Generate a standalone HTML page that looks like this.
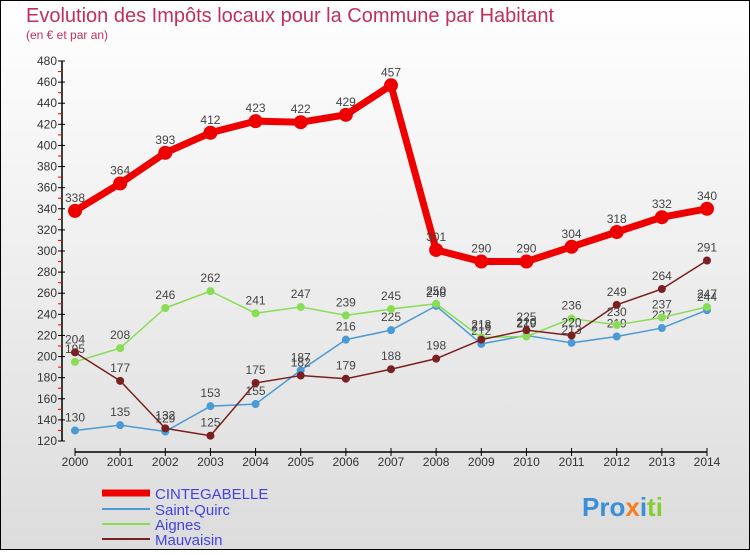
<!DOCTYPE html>
<html><head><meta charset="utf-8"><style>
body{margin:0;width:750px;height:550px;overflow:hidden;font-family:"Liberation Sans",sans-serif}
</style></head><body>
<svg id="c" width="750" height="550" xmlns="http://www.w3.org/2000/svg">
<defs><linearGradient id="bg" x1="0" y1="0" x2="0" y2="1"><stop offset="0" stop-color="#ffffff"/><stop offset="1" stop-color="#dcdcdc"/></linearGradient></defs>
<rect x="0.5" y="0.5" width="749" height="549" fill="url(#bg)" stroke="#000"/>
<text x="26" y="22" font-size="20" fill="#c0305a">Evolution des Impôts locaux pour la Commune par Habitant</text>
<text x="26" y="39" font-size="12" fill="#c0305a">(en € et par an)</text>
<g id="axes"></g><g id="series"></g>
<g>
<line x1="102" y1="493" x2="150" y2="493" stroke="#ee0000" stroke-width="7"/>
<text x="155" y="499" font-size="15" fill="#4444dd">CINTEGABELLE</text>
<line x1="102" y1="509" x2="150" y2="509" stroke="#4a9ad6" stroke-width="2"/>
<text x="155" y="515" font-size="15" fill="#4444dd">Saint-Quirc</text>
<line x1="102" y1="524" x2="150" y2="524" stroke="#88dd55" stroke-width="2"/>
<text x="155" y="530" font-size="15" fill="#4444dd">Aignes</text>
<line x1="102" y1="539" x2="150" y2="539" stroke="#7a2020" stroke-width="2"/>
<text x="155" y="545" font-size="15" fill="#4444dd">Mauvaisin</text>
</g>
<text x="582" y="516" font-size="26" font-weight="bold"><tspan fill="#3a8fd8">Pro</tspan><tspan fill="#f08020">x</tspan><tspan fill="#3a8fd8">i</tspan><tspan fill="#88cc33">ti</tspan></text>
</svg>
<script>
const years=[2000,2001,2002,2003,2004,2005,2006,2007,2008,2009,2010,2011,2012,2013,2014];
const cintegabelle=[338,364,393,412,423,422,429,457,301,290,290,304,318,332,340];
const saintQuirc=[130,135,129,153,155,187,216,225,248,212,220,213,219,227,244];
const aignes=[195,208,246,262,241,247,239,245,250,218,219,236,230,237,247];
const mauvaisin=[204,177,132,125,175,182,179,188,198,216,225,220,249,264,291];
const yTicks=[120,140,160,180,200,220,240,260,280,300,320,340,360,380,400,420,440,460,480];
const NS="http://www.w3.org/2000/svg";
const X=i=>75+i*(707-75)/14;
const Y=v=>441-(v-120)*(380/360);
function mk(tag,at,parent){const e=document.createElementNS(NS,tag);for(const k in at)e.setAttribute(k,at[k]);parent.appendChild(e);return e;}
const ax=document.getElementById('axes'),sg=document.getElementById('series');
let e=mk('line',{x1:62,y1:61,x2:62,y2:441,stroke:'#000','stroke-width':1.5},ax);


e=mk('line',{x1:75,y1:452,x2:707,y2:452,stroke:'#000','stroke-width':1.5},ax);


yTicks.forEach((t,i)=>{
  mk('line',{x1:58,y1:Y(t),x2:65,y2:Y(t),stroke:'#000'},ax);
  if(i<yTicks.length-1)mk('line',{x1:58,y1:Y(t+10),x2:62,y2:Y(t+10),stroke:'#e00'},ax);
  const tx=mk('text',{x:57,y:Y(t)+4,'text-anchor':'end','font-size':12,fill:'#333'},ax);tx.textContent=t;
  
  
});
years.forEach((y,i)=>{
  mk('line',{x1:X(i),y1:448,x2:X(i),y2:456,stroke:'#000'},ax);
  const tx=mk('text',{x:X(i),y:466,'text-anchor':'middle','font-size':12,fill:'#333'},ax);tx.textContent=y;
  
  
});
function series(data,color,w,r,name){
  const g=mk('g',{},sg);
  
  
  const p=mk('polyline',{points:data.map((v,i)=>X(i)+','+Y(v)).join(' '),fill:'none',stroke:color,'stroke-width':w,'stroke-linejoin':'round'},g);
  
  
  data.forEach((v,i)=>{
    const c=mk('circle',{cx:X(i),cy:Y(v),r:r,fill:color},g);
    
    
    const t=mk('text',{x:X(i),y:Y(v)-9,'text-anchor':'middle','font-size':12,fill:'#444'},g);t.textContent=v;
    
    
  });
}
series(saintQuirc,'#4a9ad6',1.5,4,'saint-quirc');
series(aignes,'#88dd55',1.5,4,'aignes');
series(mauvaisin,'#7a2020',1.5,4,'mauvaisin');
series(cintegabelle,'#ee0000',7,7,'cintegabelle');
</script>
</body></html>
